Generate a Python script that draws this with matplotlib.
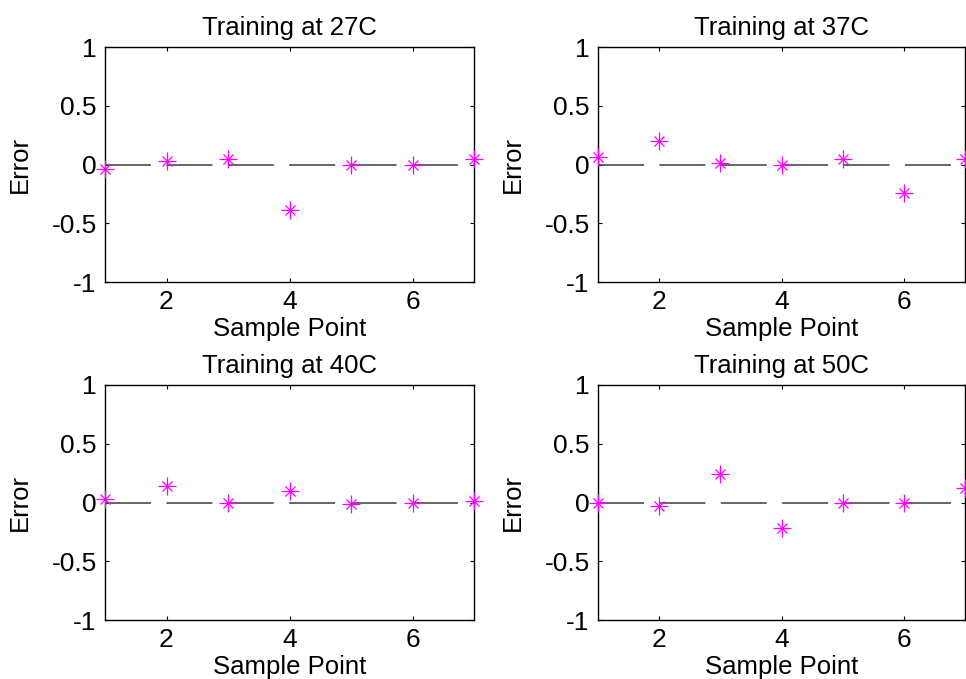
import numpy as np
import matplotlib
matplotlib.use('Agg')
import matplotlib.pyplot as plt
from matplotlib.ticker import FormatStrFormatter

plt.rcParams['font.family'] = ['Liberation Sans', 'DejaVu Sans']
plt.rcParams['axes.unicode_minus'] = False
plt.rcParams['lines.scale_dashes'] = False

# sample points and training errors
sample_points = [1, 2, 3, 4, 5, 6, 7]
err_27C = [-0.037, 0.031, 0.043, -0.39, -0.002, -0.002, 0.043]
err_37C = [0.068, 0.199, 0.009, -0.006, 0.051, -0.241, 0.043]
err_40C = [0.026, 0.142, -0.006, 0.099, -0.009, -0.006, 0.011]
err_50C = [-0.006, -0.031, 0.241, -0.221, -0.003, -0.003, 0.127]
titles = ['Training at 27C', 'Training at 37C', 'Training at 40C', 'Training at 50C']
y_ticks = [-1, -0.5, 0, 0.5, 1]
x_ticks = [2, 4, 6]

W, H = 966, 679
fig = plt.figure(figsize=(W / 100, H / 100), dpi=100)

# axes boxes in pixels: left, top, right, bottom
boxes = [(105, 47, 474, 282), (598, 47, 965, 282),
         (105, 385, 474, 620), (598, 385, 965, 620)]
errors = [err_27C, err_37C, err_40C, err_50C]

for (l, t, r, b), err, title in zip(boxes, errors, titles):
    ax = fig.add_axes([l / W, 1 - b / H, (r - l) / W, (b - t) / H])
    ax.plot(sample_points, np.zeros(len(sample_points)), color='#4a4a4a',
            lw=1.2, dashes=(33.1, 11.1), zorder=2)
    # matlab style asterisk: long plus with shorter diagonals
    ax.plot(sample_points, err, linestyle='none', marker='+',
            markersize=13, markeredgewidth=0.9, color='#ff00ff',
            clip_on=False, zorder=3)
    ax.plot(sample_points, err, linestyle='none', marker='x',
            markersize=7, markeredgewidth=0.9, color='#ff00ff',
            clip_on=False, zorder=3)
    ax.set_xlim(1, 7)
    ax.set_ylim(-1, 1)
    ax.set_xticks(x_ticks)
    ax.set_yticks(y_ticks)
    ax.yaxis.set_major_formatter(FormatStrFormatter('%g'))
    ax.tick_params(direction='in', length=3, width=0.8, top=True, right=True,
                   labelsize=19, pad=6, colors='black')
    for s in ax.spines.values():
        s.set_linewidth(1.0)
    ax.set_title(title, fontsize=18.5, pad=9)
    ax.set_xlabel('Sample Point', fontsize=18.5, labelpad=2)
    ax.set_ylabel('Error', fontsize=18.5, labelpad=14)

fig.savefig('out.png', dpi=100)
